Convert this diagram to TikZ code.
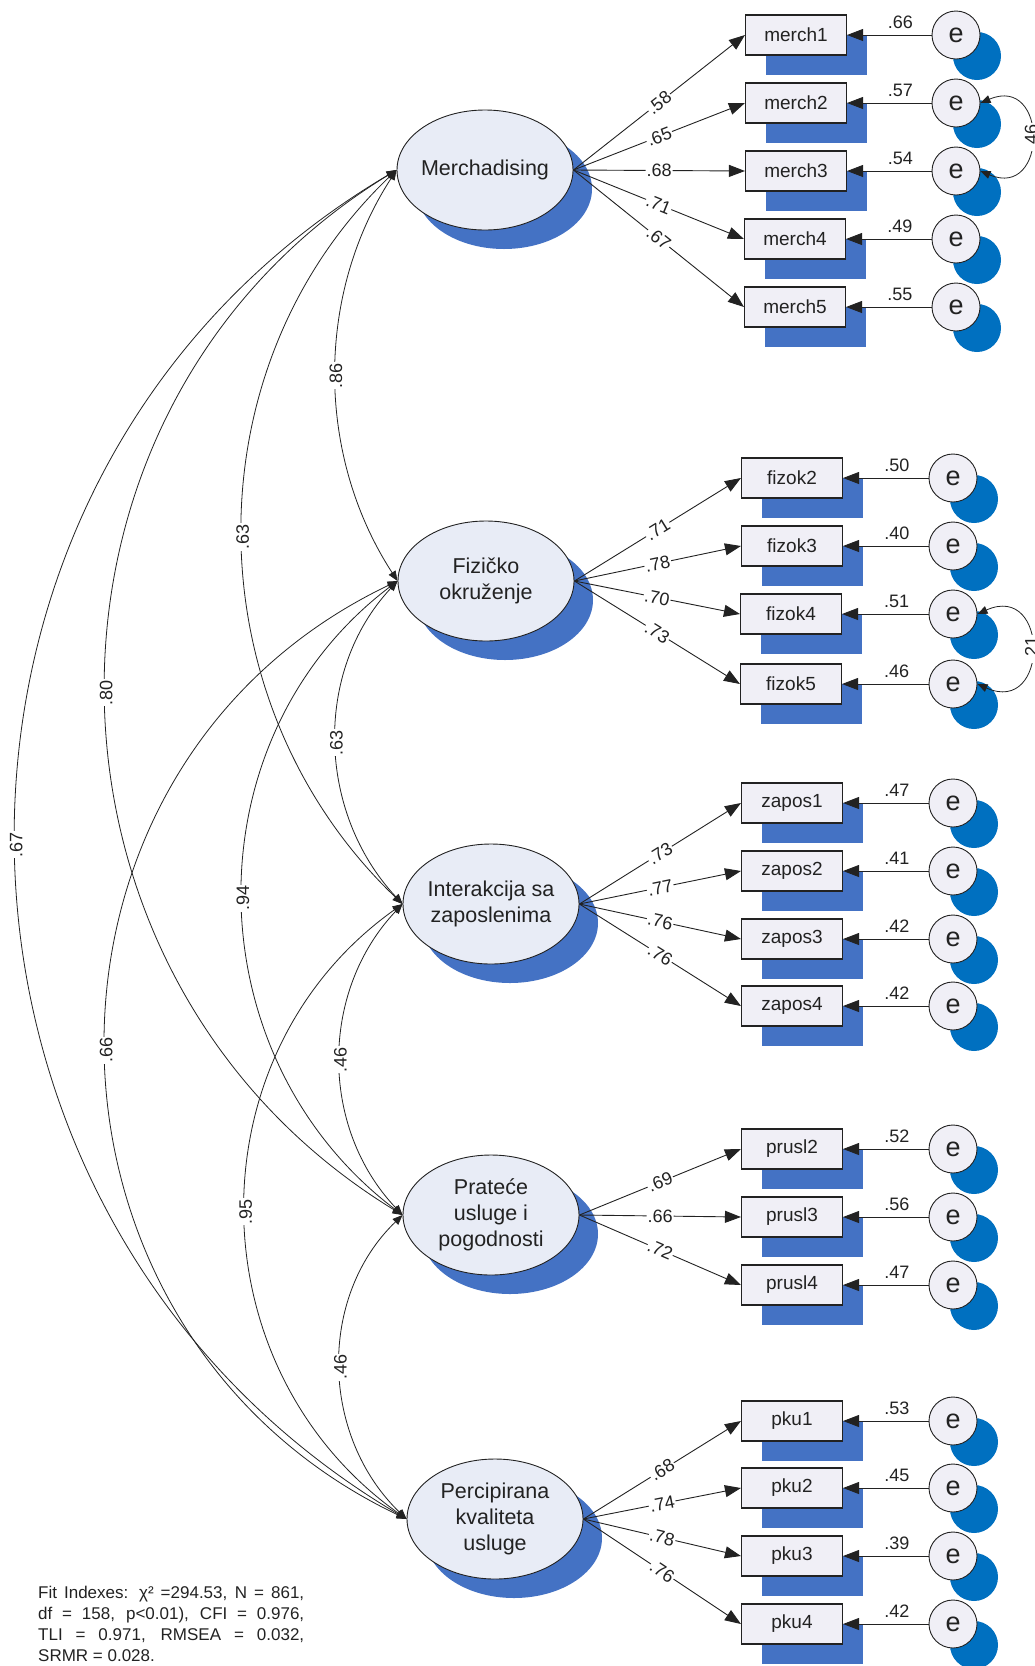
\documentclass[tikz,border=0pt]{standalone}
\usepackage{fontspec}
\setmainfont{Liberation Sans}
\usetikzlibrary{shapes.geometric,arrows.meta,shadows}
\definecolor{latfill}{HTML}{E8ECF6}
\definecolor{boxfill}{HTML}{F0EFF6}
\definecolor{shblue}{HTML}{4472C4}
\definecolor{eshblue}{HTML}{0070C0}
\definecolor{ink}{HTML}{222222}
\begin{document}
\begin{tikzpicture}[x=1pt,y=1pt,
  lat/.style={ellipse, draw=ink, line width=0.9pt, fill=latfill, minimum width=176pt, minimum height=120pt, inner sep=0pt,
    drop shadow={shadow xshift=19pt, shadow yshift=-19pt, fill=shblue, opacity=1}},
  lattext/.style={align=center, font=\fontsize{21.5}{26}\selectfont, text=ink, inner sep=0pt},
  obs/.style={rectangle, draw=ink, line width=1.1pt, fill=boxfill, minimum width=101pt, minimum height=40pt, inner sep=0pt,
    font=\fontsize{19}{22}\selectfont, text=ink,
    drop shadow={shadow xshift=20pt, shadow yshift=-20pt, fill=shblue, opacity=1}},
  err/.style={circle, draw=ink, line width=0.9pt, fill=boxfill, minimum size=48pt, inner sep=0pt,
    font=\fontsize{27}{28}\selectfont, text=ink,
    drop shadow={shadow xshift=21pt, shadow yshift=-21pt, fill=eshblue, opacity=1}},
  load/.style={draw=ink, line width=0.9pt, -{Triangle[length=16pt,width=12pt]}},
  lbl/.style={font=\fontsize{18}{20}\selectfont, text=ink, fill=white, inner sep=1pt, sloped, pos=0.5},
  elbl/.style={font=\fontsize{18}{20}\selectfont, text=ink, inner sep=1pt, above=5pt, pos=0.37},
  cov/.style={draw=ink, line width=0.8pt, {Triangle[length=10pt,width=8pt]}-{Triangle[length=10pt,width=8pt]}},
  clbl/.style={font=\fontsize{18}{20}\selectfont, text=ink, fill=white, inner sep=1pt, rotate=90, midway},
]
\useasboundingbox (0,0) rectangle (1034,-1666);

% latent variables
\node[lat] (merch) at (485,-170) {};
\node[lattext] (merchT) at (merch) {Merchadising};
\node[lat] (fiz) at (486,-581) {};
\node[lattext] (fizT) at (fiz) {Fizičko\\okruženje};
\node[lat] (int) at (491,-904) {};
\node[lattext] (intT) at (int) {Interakcija sa\\zaposlenima};
\node[lat] (prat) at (491,-1215) {};
\node[lattext] (pratT) at (prat) {Prateće\\usluge i\\pogodnosti};
\node[lat] (perc) at (495,-1519) {};
\node[lattext] (percT) at (perc) {Percipirana\\kvaliteta\\usluge};

% observed variables and errors
\node[obs] (m1) at (796,-35) {merch1};
\node[obs] (m2) at (796,-103) {merch2};
\node[obs] (m3) at (796,-171) {merch3};
\node[obs] (m4) at (795,-239) {merch4};
\node[obs] (m5) at (795,-307) {merch5};
\node[err] (em1) at (956,-35) {e};
\node[err] (em2) at (956,-103) {e};
\node[err] (em3) at (956,-171) {e};
\node[err] (em4) at (956,-239) {e};
\node[err] (em5) at (956,-307) {e};

\node[obs] (f2) at (792,-478) {fizok2};
\node[obs] (f3) at (792,-546) {fizok3};
\node[obs] (f4) at (791,-614) {fizok4};
\node[obs] (f5) at (791,-684) {fizok5};
\node[err] (ef2) at (953,-478) {e};
\node[err] (ef3) at (953,-546) {e};
\node[err] (ef4) at (953,-614) {e};
\node[err] (ef5) at (953,-684) {e};

\node[obs] (z1) at (792,-803) {zapos1};
\node[obs] (z2) at (792,-871) {zapos2};
\node[obs] (z3) at (792,-939) {zapos3};
\node[obs] (z4) at (792,-1006) {zapos4};
\node[err] (ez1) at (953,-803) {e};
\node[err] (ez2) at (953,-871) {e};
\node[err] (ez3) at (953,-939) {e};
\node[err] (ez4) at (953,-1006) {e};

\node[obs] (p2) at (792,-1149) {prusl2};
\node[obs] (p3) at (792,-1217) {prusl3};
\node[obs] (p4) at (792,-1285) {prusl4};
\node[err] (ep2) at (953,-1149) {e};
\node[err] (ep3) at (953,-1217) {e};
\node[err] (ep4) at (953,-1285) {e};

\node[obs] (k1) at (792,-1421) {pku1};
\node[obs] (k2) at (792,-1488) {pku2};
\node[obs] (k3) at (792,-1556) {pku3};
\node[obs] (k4) at (792,-1624) {pku4};
\node[err] (ek1) at (953,-1421) {e};
\node[err] (ek2) at (953,-1488) {e};
\node[err] (ek3) at (953,-1556) {e};
\node[err] (ek4) at (953,-1624) {e};

% loadings
\draw[load] (merch.east) -- node[lbl]{.58} (m1.west);
\draw[load] (merch.east) -- node[lbl]{.65} (m2.west);
\draw[load] (merch.east) -- node[lbl]{.68} (m3.west);
\draw[load] (merch.east) -- node[lbl]{.71} (m4.west);
\draw[load] (merch.east) -- node[lbl]{.67} (m5.west);
\draw[load] (fiz.east) -- node[lbl]{.71} (f2.west);
\draw[load] (fiz.east) -- node[lbl]{.78} (f3.west);
\draw[load] (fiz.east) -- node[lbl]{.70} (f4.west);
\draw[load] (fiz.east) -- node[lbl]{.73} (f5.west);
\draw[load] (int.east) -- node[lbl]{.73} (z1.west);
\draw[load] (int.east) -- node[lbl]{.77} (z2.west);
\draw[load] (int.east) -- node[lbl]{.76} (z3.west);
\draw[load] (int.east) -- node[lbl]{.76} (z4.west);
\draw[load] (prat.east) -- node[lbl]{.69} (p2.west);
\draw[load] (prat.east) -- node[lbl]{.66} (p3.west);
\draw[load] (prat.east) -- node[lbl]{.72} (p4.west);
\draw[load] (perc.east) -- node[lbl]{.68} (k1.west);
\draw[load] (perc.east) -- node[lbl]{.74} (k2.west);
\draw[load] (perc.east) -- node[lbl]{.78} (k3.west);
\draw[load] (perc.east) -- node[lbl]{.76} (k4.west);

% error paths
\draw[load] (em1.west) -- (m1.east) node[elbl]{.66};
\draw[load] (em2.west) -- (m2.east) node[elbl]{.57};
\draw[load] (em3.west) -- (m3.east) node[elbl]{.54};
\draw[load] (em4.west) -- (m4.east) node[elbl]{.49};
\draw[load] (em5.west) -- (m5.east) node[elbl]{.55};
\draw[load] (ef2.west) -- (f2.east) node[elbl]{.50};
\draw[load] (ef3.west) -- (f3.east) node[elbl]{.40};
\draw[load] (ef4.west) -- (f4.east) node[elbl]{.51};
\draw[load] (ef5.west) -- (f5.east) node[elbl]{.46};
\draw[load] (ez1.west) -- (z1.east) node[elbl]{.47};
\draw[load] (ez2.west) -- (z2.east) node[elbl]{.41};
\draw[load] (ez3.west) -- (z3.east) node[elbl]{.42};
\draw[load] (ez4.west) -- (z4.east) node[elbl]{.42};
\draw[load] (ep2.west) -- (p2.east) node[elbl]{.52};
\draw[load] (ep3.west) -- (p3.east) node[elbl]{.56};
\draw[load] (ep4.west) -- (p4.east) node[elbl]{.47};
\draw[load] (ek1.west) -- (k1.east) node[elbl]{.53};
\draw[load] (ek2.west) -- (k2.east) node[elbl]{.45};
\draw[load] (ek3.west) -- (k3.east) node[elbl]{.39};
\draw[load] (ek4.west) -- (k4.east) node[elbl]{.42};

% error covariances
\draw[cov] (em2.east) .. controls +(23:73.6) and +(-23:73.6) .. (em3.east) node[clbl]{.46};
\draw[cov] (ef4.east) .. controls +(24:78.8) and +(-24:78.8) .. (ef5.east) node[clbl]{.21};

% latent covariances
\draw[cov] (merch.west) .. controls +(237:149.6) and +(123:149.6) .. (fiz.west) node[clbl]{.86};
\draw[cov] (fiz.west) .. controls +(227:124.6) and +(133:124.6) .. (int.west) node[clbl]{.63};
\draw[cov] (int.west) .. controls +(226.5:120.5) and +(133.5:120.5) .. (prat.west) node[clbl]{.46};
\draw[cov] (prat.west) .. controls +(224:119) and +(136:119) .. (perc.west) node[clbl]{.46};
\draw[cov] (merch.west) .. controls +(223.7:289.4) and +(136.3:289.4) .. (int.west) node[clbl]{.63};
\draw[cov] (fiz.west) .. controls +(217.2:263.1) and +(142.8:263.1) .. (prat.west) node[clbl]{.94};
\draw[cov] (int.west) .. controls +(215.4:260) and +(144.6:260) .. (perc.west) node[clbl]{.95};
\draw[cov] (merch.west) .. controls +(211.4:458.2) and +(148.6:458.2) .. (prat.west) node[clbl]{.80};
\draw[cov] (fiz.west) .. controls +(205.5:437) and +(154.5:437) .. (perc.west) node[clbl]{.66};
\draw[cov] (merch.west) .. controls +(210.6:596.8) and +(149.4:596.8) .. (perc.west) node[clbl]{.67};

% fit indexes
\node[anchor=north west, inner sep=0pt, font=\fontsize{17}{21}\selectfont, text=ink, align=left] (fit) at (38,-1586)
  {\makebox[266pt][s]{Fit Indexes: χ² =294.53, N = 861,}\\
   \makebox[266pt][s]{df = 158, p<0.01), CFI = 0.976,}\\
   \makebox[266pt][s]{TLI = 0.971, RMSEA = 0.032,}\\
   SRMR = 0.028.};
\end{tikzpicture}
\end{document}
